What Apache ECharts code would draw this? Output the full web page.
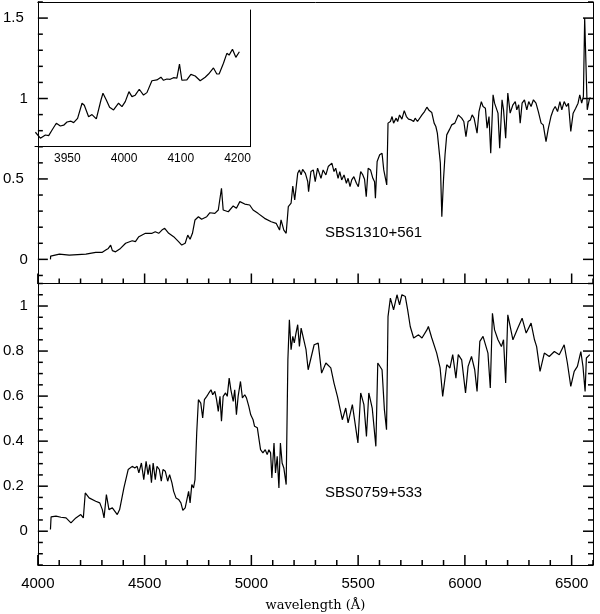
<!DOCTYPE html>
<html><head><meta charset="utf-8">
<script src="https://cdn.jsdelivr.net/npm/echarts@6/dist/echarts.min.js"></script>
<style>html,body{margin:0;padding:0;background:#fff}#c{width:600px;height:614px}</style>
</head><body><div id="c"></div>
<script>
// ---- data ----
const topWave = [4059,4060,4101,4147,4225,4271,4302,4318,4330,4341,
4349,4364,4387,4411,4442,4457,4473,4504,4535,4550,
4566,4581,4594,4613,4636,4659,4674,4690,4702,4713,
4724,4736,4752,4767,4791,4806,4829,4845,4860,4868,
4892,4915,4930,4946,4969,4992,5008,5031,5062,5093,
5116,5132,5139,5152,5163,5173,
5186,5194,5203,5217,5225,5233,5240,5253,5264,5268,
5279,5290,5299,5310,5318,5326,5336,5349,5360,5367,
5377,5387,5395,5406,5414,5423,5434,5445,5453,5462,
5470,5480,5492,5501,5512,5522,5530,5538,5547,5558,
5569,5577,5581,5589,5601,5612,5620,5628,5634,5640,
5651,5659,5666,5678,5685,5694,5705,5716,5726,5736,
5749,5760,5767,5778,5787,5799,5811,5822,5833,5845,
5856,5864,5871,5879,5885,5892,5900,5907,5915,5927,
5938,5953,5961,5969,5985,5995,6005,6015,6026,6034,
6043,6057,6066,6077,6085,6096,6104,6113,6121,6132,
6139,6147,6155,6163,6174,6181,6191,6201,6212,6225,
6236,6243,6252,6259,6268,6279,6290,6299,6310,6321,
6333,6344,6357,6367,6380,6391,6403,6414,6423,6434,
6445,6454,6465,6476,6485,6496,6507,6519,6530,6538,
6547,6555,6561,6573,6584,6590];
const topFlux = [0.0,0.02,0.033,0.027,0.033,0.044,0.044,0.058,0.068,0.089,
0.054,0.047,0.068,0.100,0.116,0.110,0.141,0.162,0.162,0.172,
0.162,0.182,0.193,0.162,0.141,0.110,0.089,0.100,0.151,0.125,
0.162,0.245,0.265,0.249,0.265,0.290,0.286,0.307,0.442,0.307,
0.296,0.332,0.318,0.359,0.344,0.338,0.307,0.286,0.255,0.234,
0.224,0.182,0.245,0.182,0.162,0.328,
0.349,0.456,0.369,0.535,0.556,0.525,0.560,0.535,0.483,0.421,
0.546,0.556,0.483,0.567,0.577,0.504,0.556,0.525,0.577,0.567,
0.598,0.546,0.567,0.504,0.546,0.494,0.525,0.473,0.504,0.452,
0.494,0.514,0.473,0.452,0.546,0.525,0.498,0.390,0.567,0.556,
0.504,0.483,0.380,0.608,0.650,0.660,0.556,0.567,0.463,0.847,
0.857,0.888,0.847,0.878,0.857,0.898,0.872,0.925,0.888,0.872,
0.867,0.857,0.878,0.857,0.847,0.898,0.919,0.946,0.925,0.913,
0.847,0.826,0.785,0.774,0.600,0.265,0.500,0.650,0.774,0.805,
0.836,0.847,0.857,0.898,0.878,0.857,0.763,0.857,0.867,0.898,
0.878,0.785,0.919,0.981,0.950,0.940,0.816,0.888,0.660,1.023,
0.971,0.981,0.909,0.691,0.992,0.930,0.753,1.034,0.909,0.961,
0.981,0.930,0.961,0.847,0.971,0.992,0.930,0.981,0.950,0.992,
0.971,0.919,0.847,0.836,0.732,0.816,0.888,0.930,0.950,0.919,
0.981,0.930,0.981,0.950,0.971,0.795,0.909,0.940,0.971,1.023,
0.971,1.013,1.500,0.930,1.003,1.003];

const botWave = [4059,4062,4085,4108,4132,4155,4178,4201,4213,4222,
4240,4271,4290,4302,4310,4321,4333,4349,4372,4383,
4403,4423,
4442,4454,4465,4473,4485,4496,4507,4516,4524,4532,
4540,4550,4558,4569,4578,4586,4597,4608,4617,4628,
4636,4647,4659,4670,4679,4690,4698,4706,4713,4721,
4729,4736,4744,4752,4763,4772,4780,4791,4801,4811,
4819,4829,4837,4845,4853,4860,4868,4879,4887,4896,
4904,4915,4922,4930,4938,4949,4958,4969,4977,4988,
4997,5008,5015,5028,5036,5043,5054,5065,5074,5082,
5090,5096,5106,5113,5121,5129,5136,5144,5152,5163,
5171,5178,5186,5194,5201,5209,5217,5225,
5233,5256,5266,5294,5313,5329,5349,5372,5387,5403,
5426,5442,5453,5473,5499,5512,5527,5539,5550,5566,
5583,5592,5612,5623,5633,5640,5651,5666,5682,5694,
5705,5721,5732,5744,5760,5783,5799,5822,5829,5845,
5868,5884,5896,5915,5930,5943,5958,5969,5985,6003,
6015,6031,6046,6057,6070,6085,6108,6119,6129,6139,
6155,6171,6181,6191,6201,6225,6248,6268,6287,6310,
6326,6336,6352,6372,6395,6419,6442,6465,6480,6496,
6512,6527,6543,6553,6563,6569,6585];
const botFlux = [0.008,0.064,0.067,0.062,0.059,0.037,0.059,0.074,0.059,0.170,
0.148,0.133,0.126,0.096,0.059,0.163,0.096,0.104,0.074,0.096,
0.192,0.274,
0.288,0.281,0.288,0.259,0.303,0.229,0.310,0.251,0.296,0.215,
0.303,0.229,0.288,0.274,0.222,0.274,0.266,0.222,0.251,0.215,
0.177,0.148,0.141,0.126,0.093,0.104,0.096,0.177,0.126,0.207,
0.192,0.229,0.436,0.584,0.569,0.503,0.584,0.599,0.614,0.628,
0.606,0.621,0.584,0.532,0.599,0.488,0.599,0.614,0.599,0.680,
0.628,0.576,0.628,0.517,0.599,0.665,0.592,0.606,0.592,0.554,
0.517,0.495,0.466,0.459,0.407,0.362,0.348,0.362,0.340,0.362,
0.348,0.237,0.392,0.259,0.333,0.192,0.392,0.303,0.281,0.207,
0.761,0.939,0.806,0.865,0.836,0.880,0.917,0.820,
0.902,0.806,0.717,0.828,0.835,0.702,0.747,0.725,0.658,0.599,
0.495,0.547,0.481,0.562,0.392,0.614,0.562,0.421,0.614,0.547,
0.377,0.747,0.717,0.540,0.451,0.953,1.035,0.983,1.050,1.005,
1.050,1.042,0.983,0.909,0.858,0.872,0.858,0.894,0.909,0.858,
0.791,0.725,0.599,0.739,0.725,0.784,0.680,0.784,0.761,0.614,
0.732,0.776,0.717,0.621,0.843,0.865,0.791,0.636,0.968,0.894,
0.850,0.820,0.850,0.658,0.961,0.850,0.902,0.946,0.880,0.924,
0.850,0.820,0.710,0.791,0.776,0.798,0.784,0.828,0.747,0.643,
0.710,0.732,0.798,0.732,0.621,0.769,0.784];

// inset: x in the inset's own tick-index units (tick i carries insetTickLabels[i-1])
const insetPos = [0.437,0.525,0.613,0.671,0.731,0.806,0.877,0.935,0.994,1.065,
1.111,1.181,1.259,1.299,1.375,1.435,1.511,1.593,1.628,1.687,
1.745,1.815,1.903,1.963,2.021,2.086,2.139,2.197,2.268,2.343,
2.403,2.491,2.579,2.650,2.695,2.755,2.813,2.871,2.931,2.977,
3.019,3.107,3.178,3.254,3.342,3.430,3.489,3.518,3.576,3.635,
3.676,3.752,3.812,3.852,3.911,3.970,3.998,4.033];
const insetFlux = [0.790,0.753,0.773,0.769,0.804,0.846,0.829,0.834,0.854,0.859,
0.850,0.877,0.971,0.958,0.887,0.900,0.873,0.991,1.033,0.991,
0.946,0.929,0.971,0.950,0.981,1.043,1.012,1.021,1.058,1.022,
1.037,1.111,1.116,1.133,1.114,1.122,1.120,1.130,1.128,1.215,
1.114,1.116,1.151,1.141,1.111,1.133,1.153,1.145,1.191,1.153,
1.153,1.220,1.282,1.271,1.307,1.257,1.251,1.292];

// ---- axes / ticks ----
const xRange = [4000, 6600];
const xTicks = [4000, 4500, 5000, 5500, 6000, 6500];
const xMinorStep = 100;
const topYRange = [-0.15, 1.6];
const topYTicks = [0, 0.5, 1, 1.5];
const topYMinorStep = 0.1;
const botYRange = [-0.15, 1.1];
const botYTicks = [0, 0.2, 0.4, 0.6, 0.8, 1];
const botYMinorStep = 0.05;
const insetTickPos = [1, 2, 3, 4];
const insetTickLabels = ['3950', '4000', '4100', '4200'];
const objectNames = ['SBS1310+561', 'SBS0759+533'];
const xTitle = 'wavelength (Å)';

const black = '#000';
const sans = 'Liberation Sans, Arial, sans-serif';
function stepsIn(lo, hi, s, skip) {
  const out = [];
  const k0 = Math.ceil(lo / s - 1e-9), k1 = Math.floor(hi / s + 1e-9);
  for (let k = k0; k <= k1; k++) {
    const v = +(k * s).toFixed(4);
    if (!skip.some(t => Math.abs(t - v) < 1e-9)) out.push(v);
  }
  return out;
}
const xMinor = stepsIn(xRange[0], xRange[1], xMinorStep, xTicks);
const topYMinor = stepsIn(topYRange[0], topYRange[1], topYMinorStep, topYTicks);
const botYMinor = stepsIn(botYRange[0], botYRange[1], botYMinorStep, botYTicks);

function yLab(v) { return Number.isInteger(v) ? '{i|' + v + '}' : '{d|' + v + '}'; }
const rich = { i: { fontSize: 15, fontFamily: sans, color: black }, d: { fontSize: 15, fontFamily: sans, color: black, padding: [0, 4, 0, 0] } };
const lineAx = { show: true, onZero: false, lineStyle: { color: black, width: 1 } };

function xAx(grid, pos, labels, extra) {
  return Object.assign({
    type: 'value', gridIndex: grid, position: pos, min: xRange[0], max: xRange[1],
    axisLine: lineAx, axisTick: { show: false },
    axisLabel: labels ? { customValues: xTicks, formatter: v => String(v), color: black, fontSize: 15, fontFamily: sans, margin: 11 } : { show: false },
    splitLine: { show: false }
  }, extra || {});
}
function yAx(grid, pos, range, labelVals) {
  return {
    type: 'value', gridIndex: grid, position: pos, min: range[0], max: range[1],
    axisLine: lineAx, axisTick: { show: false },
    axisLabel: labelVals ? { customValues: labelVals, formatter: yLab, rich: rich, margin: 10, fontSize: 15, fontFamily: sans, color: black } : { show: false },
    splitLine: { show: false }
  };
}

// inward tick marks: thin rect symbols anchored on the frame at axis values
const TW = 1.5;
function tickSeries(xi, yi, yRange, yMaj, yMin) {
  const items = [];
  const xt = (v, len) => items.push({ value: [v, yRange[0]], symbolSize: [TW, len], symbolOffset: [0, -len / 2] });
  const yl = (v, len) => items.push({ value: [xRange[0], v], symbolSize: [len, TW], symbolOffset: [len / 2, 0] });
  const yr = (v, len) => items.push({ value: [xRange[1], v], symbolSize: [len, TW], symbolOffset: [-len / 2, 0] });
  xTicks.forEach(v => xt(v, 10));
  xMinor.forEach(v => xt(v, 5));
  yMaj.forEach(v => { yl(v, 10); yr(v, 10); });
  yMin.forEach(v => { yl(v, 5); yr(v, 5); });
  return {
    type: 'scatter', xAxisIndex: xi, yAxisIndex: yi, silent: true, clip: false, animation: false, z: 5,
    symbol: 'rect', symbolKeepAspect: false, itemStyle: { color: black, opacity: 1, borderWidth: 0 }, data: items
  };
}

const chart = echarts.init(document.getElementById('c'), null, { renderer: 'canvas' });
const pair = (xs, ys) => xs.map((x, i) => [x, ys[i]]);
const lineSeries = (xi, yi, data) => ({
  type: 'line', xAxisIndex: xi, yAxisIndex: yi, data: data, showSymbol: false, symbol: 'none',
  lineStyle: { color: black, width: 1.2 }, silent: true, animation: false, z: 3
});

chart.setOption({
  animation: false,
  backgroundColor: '#fff',
  grid: [
    { left: 35, top: 2, width: 558, height: 281.5 },
    { left: 35, top: 283.5, width: 558, height: 281.5 },
    { left: 35, top: 10, width: 215, height: 136.7 }
  ],
  xAxis: [
    xAx(0, 'bottom', false),
    xAx(0, 'top', false),
    xAx(1, 'bottom', true, {
      name: xTitle, nameLocation: 'middle', nameGap: 34,
      nameTextStyle: { fontFamily: 'DejaVu Serif', fontSize: 13, color: black }
    }),
    xAx(1, 'top', false),
    {
      type: 'value', gridIndex: 2, position: 'bottom', min: 0.43, max: 4.22,
      axisLine: lineAx, axisTick: { show: false },
      axisLabel: { customValues: insetTickPos, formatter: v => insetTickLabels[insetTickPos.indexOf(v)], color: black, fontSize: 12, fontFamily: sans, margin: 6 },
      splitLine: { show: false }
    }
  ],
  yAxis: [
    yAx(0, 'left', topYRange, topYTicks),
    yAx(0, 'right', topYRange, null),
    yAx(1, 'left', botYRange, botYTicks),
    yAx(1, 'right', botYRange, null),
    {
      type: 'value', gridIndex: 2, position: 'right', min: 0.7, max: 1.552,
      axisLine: lineAx, axisTick: { show: false }, axisLabel: { show: false }, splitLine: { show: false }
    }
  ],
  series: [
    lineSeries(0, 0, pair(topWave, topFlux)),
    lineSeries(2, 2, pair(botWave, botFlux)),
    lineSeries(4, 4, pair(insetPos, insetFlux)),
    tickSeries(0, 0, topYRange, topYTicks, topYMinor),
    tickSeries(2, 2, botYRange, botYTicks, botYMinor)
  ],
  graphic: [
    { type: 'text', left: 325, top: 225, style: { text: objectNames[0], font: '15px "Liberation Sans", Arial, sans-serif', fill: black } },
    { type: 'text', left: 325, top: 485, style: { text: objectNames[1], font: '15px "Liberation Sans", Arial, sans-serif', fill: black } }
  ]
});
</script>
</body></html>
